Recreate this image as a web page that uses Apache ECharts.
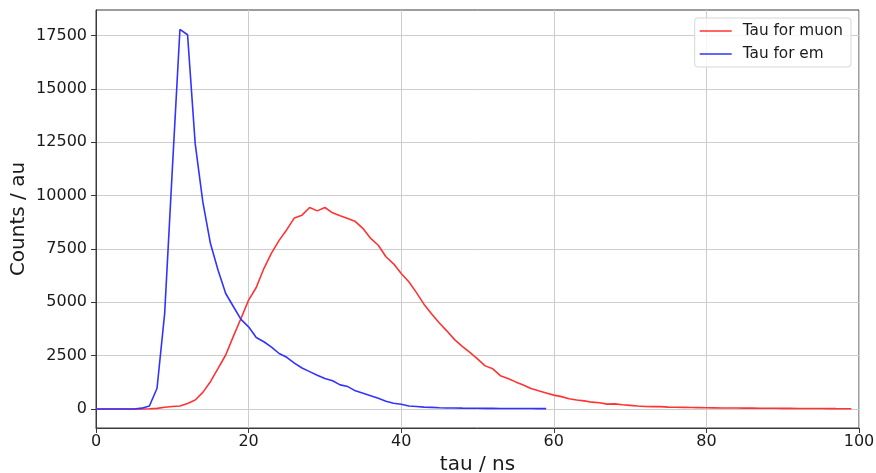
<!DOCTYPE html>
<html>
<head>
<meta charset="utf-8">
<script src="https://cdn.jsdelivr.net/npm/echarts@6/dist/echarts.min.js"></script>
<style>
  html, body { margin: 0; padding: 0; background: #fff; }
  #chart { width: 876px; height: 473px; }
</style>
</head>
<body>
<div id="chart"></div>
<script>
// Decay-time histograms (counts per 1 ns bin)
const muonTau = [
  0, 0, 0, 0, 0, 0, 0, 10, 30, 80,
  120, 140, 260, 420, 780, 1280, 1900, 2530, 3400, 4240,
  5100, 5690, 6580, 7300, 7900, 8400, 8950, 9080, 9440, 9280,
  9440, 9190, 9050, 8920, 8780, 8450, 7990, 7670, 7130, 6800,
  6350, 5960, 5450, 4900, 4450, 4030, 3650, 3250, 2930, 2650,
  2350, 2020, 1880, 1560, 1430, 1270, 1120, 960, 850, 750,
  650, 580, 480, 420, 380, 320, 290, 230, 240, 200,
  170, 140, 115, 110, 110, 90, 80, 75, 70, 65,
  60, 55, 50, 48, 45, 42, 40, 38, 35, 33,
  30, 28, 26, 24, 22, 20, 18, 16, 15, 14
];
const emTau = [
  0, 0, 0, 0, 0, 0, 40, 140, 970, 4480,
  11200, 17780, 17530, 12430, 9700, 7750, 6500, 5410, 4800, 4200,
  3850, 3350, 3150, 2900, 2600, 2420, 2150, 1920, 1750, 1580,
  1430, 1320, 1130, 1050, 850, 740, 620, 500, 360, 270,
  220, 140, 120, 90, 75, 60, 50, 45, 40, 38,
  35, 30, 28, 26, 25, 24, 22, 20, 18, 16
];
const yTicks = [0, 2500, 5000, 7500, 10000, 12500, 15000, 17500];
const seriesNames = ['Tau for muon', 'Tau for em'];

const toPairs = arr => arr.map((v, i) => [i, v]);

const font = 'DejaVu Sans';
const ink = '#1a1a1a';
const spine = '#3a3a3a';
const gridLine = '#cdcdcd';

const chart = echarts.init(document.getElementById('chart'), null, { renderer: 'canvas' });
chart.setOption({
  animation: false,
  backgroundColor: '#fff',
  grid: {
    left: 96, right: 17, top: 10, bottom: 45,
    outerBoundsMode: 'none', containLabel: false,
    show: true, borderColor: spine, borderWidth: 1, backgroundColor: 'transparent'
  },
  legend: {
    data: seriesNames,
    right: 25, top: 18,
    orient: 'vertical',
    align: 'left',
    icon: 'rect',
    itemWidth: 32, itemHeight: 1.6, itemGap: 5,
    padding: [4, 8, 4, 5],
    borderColor: '#d6d6d6', borderWidth: 1, borderRadius: 3,
    backgroundColor: 'rgba(255,255,255,0.8)',
    textStyle: { fontFamily: font, fontSize: 15.3, color: ink, padding: [0, 0, 0, 6], lineHeight: 18 }
  },
  xAxis: {
    type: 'value', min: 0, max: 100, interval: 20,
    name: 'tau / ns', nameLocation: 'middle', nameGap: 27,
    nameTextStyle: { fontFamily: font, fontSize: 20, color: ink },
    axisLine: { show: true, onZero: false, lineStyle: { color: spine } },
    axisTick: { show: true, inside: false, length: 5, lineStyle: { color: spine } },
    axisLabel: { fontFamily: font, fontSize: 16, color: ink, margin: 6 },
    splitLine: { show: true, lineStyle: { color: gridLine, width: 1 } }
  },
  yAxis: {
    type: 'value', min: -890, max: 18690,
    name: 'Counts / au', nameLocation: 'middle', nameGap: 67, nameRotate: 90,
    nameMoveOverlap: false,
    nameTextStyle: { fontFamily: font, fontSize: 20, color: ink },
    axisLine: { show: true, lineStyle: { color: spine } },
    axisTick: { show: true, inside: false, length: 5, lineStyle: { color: spine }, customValues: yTicks },
    axisLabel: {
      fontFamily: font, fontSize: 16, color: ink, margin: 9, customValues: yTicks,
      formatter: v => String(v)
    },
    splitLine: { show: true, lineStyle: { color: gridLine, width: 1 } }
  },
  series: [
    {
      name: seriesNames[0], type: 'line', data: toPairs(muonTau),
      symbol: 'none', showSymbol: false,
      lineStyle: { color: '#ff3333', width: 1.6 }, itemStyle: { color: '#ff3333' }
    },
    {
      name: seriesNames[1], type: 'line', data: toPairs(emTau),
      symbol: 'none', showSymbol: false,
      lineStyle: { color: '#3333ff', width: 1.6 }, itemStyle: { color: '#3333ff' }
    }
  ]
});
</script>
</body>
</html>
